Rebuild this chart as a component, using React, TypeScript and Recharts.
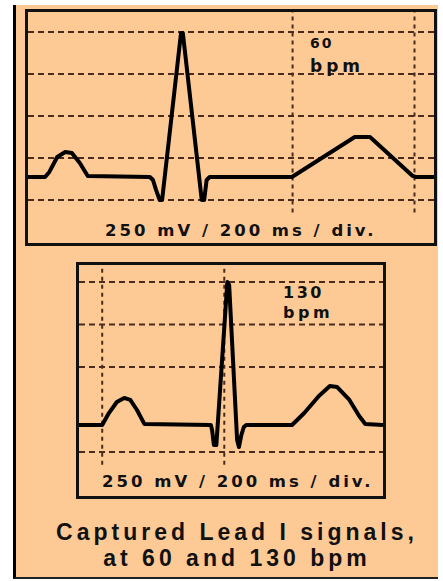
import { LineChart, Line, XAxis, YAxis, ReferenceLine } from 'recharts';

// 60 bpm trace: time (ms) and amplitude (mV)
const time60 = [0, 28, 35, 48, 61, 72, 85, 98, 200, 205, 210, 216, 220, 251, 254, 285, 289, 293, 298, 433, 536, 561, 631, 636, 666];
const mv60 = [137, 137, 167, 256, 286, 280, 220, 143, 137, 119, 60, 0, 0, 994, 994, 0, 0, 119, 137, 137, 375, 375, 143, 137, 137];

// 130 bpm trace
const time130 = [0, 38, 49, 62, 74, 84, 95, 107, 216, 218, 221, 225, 243, 246, 259, 262, 266, 270, 274, 349, 369, 393, 411, 423, 443, 459, 469, 498];
const mv130 = [159, 159, 229, 294, 318, 306, 247, 165, 159, 129, 41, 41, 1000, 982, 71, 29, 100, 147, 159, 159, 229, 329, 388, 382, 306, 212, 165, 159];

const gridMv60 = [0, 250, 500, 750, 1000];
const gridMs60 = [434, 634];
const gridMv130 = [0, 500, 750, 1000];
const gridMs130 = [38, 238];

const scaleLabel = '250 mV / 200 ms / div.';

const data60 = time60.map((t, i) => ({ t, v: mv60[i] }));
const data130 = time130.map((t, i) => ({ t, v: mv130[i] }));

const GRID = '#4a2c1e';
const PEACH = '#fdca96';

const Trace = ({ data, width, height, xMax, yDomain, hLines, vLines }: any) => (
  <LineChart width={width} height={height} data={data} margin={{ top: 0, right: 0, bottom: 0, left: 0 }}>
    <XAxis dataKey="t" type="number" domain={[0, xMax]} hide />
    <YAxis type="number" domain={yDomain} hide />
    {hLines.map((y: number) => (
      <ReferenceLine key={'h' + y} y={y} stroke={GRID} strokeWidth={2} strokeDasharray="6 4" />
    ))}
    {vLines.map((x: number) => (
      <ReferenceLine
        key={'v' + x}
        segment={[{ x, y: -75 }, { x, y: yDomain[1] }]}
        stroke={GRID}
        strokeWidth={2}
        strokeDasharray="4 4"
      />
    ))}
    <Line
      dataKey="v"
      type="linear"
      stroke="#000"
      strokeWidth={4}
      strokeLinejoin="round"
      dot={false}
      isAnimationActive={false}
    />
  </LineChart>
);

export default function App() {
  const small = { fontFamily: 'DejaVu Sans', fontWeight: 'bold' as const, fill: '#111' };
  const big = { fontFamily: 'Liberation Sans', fontWeight: 'bold' as const, fill: '#111' };
  return (
    <div style={{ position: 'absolute', left: 0, top: 0, width: 443, height: 581, background: '#fff' }}>
      <div
        style={{
          position: 'absolute', left: 13, top: 5, width: 425, height: 574,
          background: PEACH, borderLeft: '3px solid #000', borderBottom: '2px solid #222', boxSizing: 'border-box',
        }}
      />
      <div style={{ position: 'absolute', left: 25, top: 9, width: 412, height: 237, border: '3px solid #111', boxSizing: 'border-box' }}>
        <Trace data={data60} width={406} height={231} xMax={666} yDomain={[-256, 1119]} hLines={gridMv60} vLines={gridMs60} />
      </div>
      <div style={{ position: 'absolute', left: 76, top: 262, width: 310, height: 237, border: '3px solid #111', boxSizing: 'border-box' }}>
        <Trace data={data130} width={304} height={231} xMax={498} yDomain={[-259, 1100]} hLines={gridMv130} vLines={gridMs130} />
      </div>
      <svg width={443} height={581} style={{ position: 'absolute', left: 0, top: 0, pointerEvents: 'none' }}>
        <text x={310} y={48} fontSize={14} letterSpacing={2} {...small}>60</text>
        <text x={310} y={72} fontSize={17} letterSpacing={4} {...small}>bpm</text>
        <text x={105} y={236} fontSize={16.5} letterSpacing={3} {...small}>{scaleLabel}</text>
        <text x={283} y={298} fontSize={16} letterSpacing={2.5} {...small}>130</text>
        <text x={283} y={318} fontSize={16} letterSpacing={3.5} {...small}>bpm</text>
        <text x={102} y={487} fontSize={16.5} letterSpacing={3} {...small}>{scaleLabel}</text>
        <text x={237} y={540} fontSize={23} letterSpacing={4} textAnchor="middle" {...big}>
          Captured Lead I signals,
        </text>
        <text x={237} y={566} fontSize={23} letterSpacing={4} textAnchor="middle" {...big}>
          at 60 and 130 bpm
        </text>
      </svg>
    </div>
  );
}
